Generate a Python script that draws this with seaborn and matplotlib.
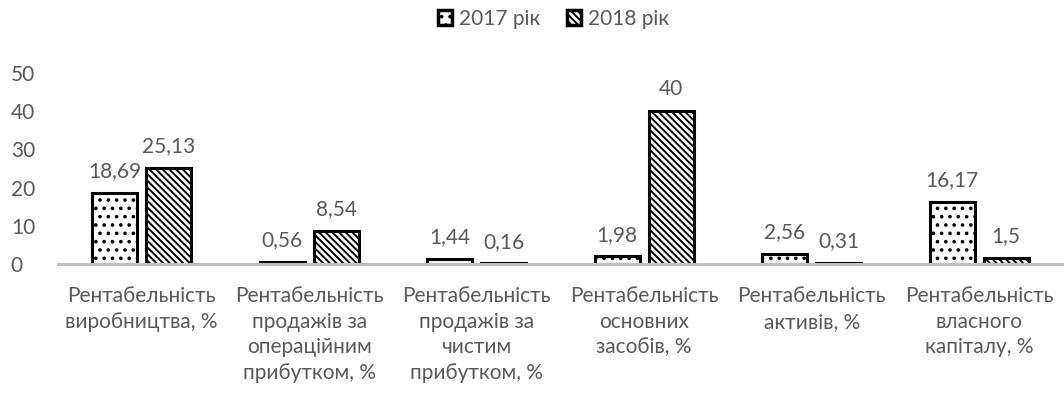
import matplotlib
matplotlib.use("Agg")
import matplotlib.pyplot as plt
import seaborn as sns
import pandas as pd

categories = [
    "Рентабельність\nвиробництва, %",
    "Рентабельність\nпродажів за\nопераційним\nприбутком, %",
    "Рентабельність\nпродажів за\nчистим\nприбутком, %",
    "Рентабельність\nосновних\nзасобів, %",
    "Рентабельність\nактивів, %",
    "Рентабельність\nвласного\nкапіталу, %",
]
series_names = ["2017 рік", "2018 рік"]
values_2017 = [18.69, 0.56, 1.44, 1.98, 2.56, 16.17]
values_2018 = [25.13, 8.54, 0.16, 40, 0.31, 1.5]
y_ticks = [0, 10, 20, 30, 40, 50]

TEXT = "#595959"
FS = 15
sns.set_theme(style="white")
plt.rcParams["font.family"] = ["Lato", "DejaVu Sans"]
plt.rcParams["hatch.linewidth"] = 1.4
plt.rcParams["hatch.color"] = "black"

df = pd.DataFrame({
    "category": categories * 2,
    "year": [series_names[0]] * len(categories) + [series_names[1]] * len(categories),
    "value": values_2017 + values_2018,
})

fig = plt.figure(figsize=(10.64, 3.96), dpi=100)
ax = fig.add_axes([0.0545, 0.3333, 0.9445, 0.4824])

sns.barplot(data=df, x="category", y="value", hue="year", order=categories,
            hue_order=series_names, palette=["white", "white"], width=0.645,
            gap=0.166, edgecolor="black", linewidth=2.2, ax=ax, legend=True)

hatches = ["..", "\\\\\\\\\\"]
for container, hatch, vals in zip(ax.containers, hatches, [values_2017, values_2018]):
    for bar in container:
        bar.set_hatch(hatch)
    ax.bar_label(container, labels=[f"{v:g}".replace(".", ",") for v in vals],
                 padding=8.5, color=TEXT, fontsize=FS)

ax.set_ylim(0, 50)
ax.set_yticks(y_ticks)
ax.set_xlim(-0.5, len(categories) - 0.5)
ax.set_xlabel("")
ax.set_ylabel("")
for side in ["top", "right", "left"]:
    ax.spines[side].set_visible(False)
ax.spines["bottom"].set_color("#BFBFBF")
ax.spines["bottom"].set_linewidth(2.2)
ax.tick_params(axis="both", length=0, colors=TEXT, labelsize=FS)
ax.tick_params(axis="x", pad=16)
ax.tick_params(axis="y", pad=34)
for lbl in ax.get_xticklabels():
    lbl.set_linespacing(1.34)
    lbl.set_verticalalignment("top")
for lbl in ax.get_yticklabels():
    lbl.set_horizontalalignment("left")

handles, labels = ax.get_legend_handles_labels()
ax.get_legend().remove()
for h, hatch in zip(handles, hatches):
    h.set_hatch(hatch)
    h.set_linewidth(2.5)
fig.legend(handles, labels, loc="center", bbox_to_anchor=(0.52, 0.953), ncol=2,
           frameon=False, fontsize=FS, labelcolor=TEXT, handlelength=0.7,
           handleheight=0.7, handletextpad=0.3, columnspacing=1.3)

fig.savefig("out.png", dpi=100)
